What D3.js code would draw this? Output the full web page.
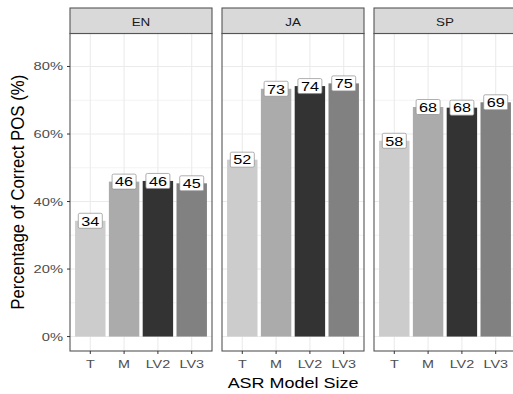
<!DOCTYPE html>
<html>
<head>
<meta charset="utf-8">
<script src="https://cdn.jsdelivr.net/npm/d3@7"></script>
<style>
  body { margin: 0; background: #fff; }
  text { font-family: "Liberation Sans", Arial, sans-serif; }
</style>
</head>
<body>
<div id="chart"></div>
<script>
// data
const languages = ["EN", "JA", "SP"];
const models = ["T", "M", "LV2", "LV3"];
const enValues = [34.3, 45.9, 46.1, 45.4];
const jaValues = [52.4, 73.4, 74.2, 75.0];
const spValues = [58.0, 68.0, 67.8, 69.4];
const yTicks = [0, 20, 40, 60, 80];
const yMinor = [10, 30, 50, 70];
const fills = ["#cccccc", "#ababab", "#333333", "#818181"];

const seriesByLang = { EN: enValues, JA: jaValues, SP: spValues };

const width = 513, height = 394;
// layout (the source image is stretched horizontally, so text gets sx)
const sx = 1.2;
const panelW = 142, panelGap = 10, panelLeft = 70;
const stripTop = 8, stripH = 25.5;
const plotTop = stripTop + stripH, plotBottom = 351;

const svg = d3.select("#chart").append("svg")
  .attr("width", width)
  .attr("height", height);

// ggplot-like expansion of y range
const y = d3.scaleLinear()
  .domain([-4.275, 89.775])
  .range([plotBottom, plotTop]);

const color = d3.scaleOrdinal().domain(models).range(fills);

function stretchedText(parent, x, yy, str, opts) {
  const g = parent.append("g")
    .attr("transform", `translate(${x},${yy}) scale(${opts.sx || sx},1)` + (opts.rotate ? ` rotate(${opts.rotate})` : ""));
  return g.append("text")
    .attr("text-anchor", opts.anchor || "middle")
    .attr("font-size", opts.size)
    .attr("fill", opts.fill || "#000")
    .text(str);
}

languages.forEach((lang, i) => {
  const x0 = panelLeft + i * (panelW + panelGap);
  const x = d3.scaleBand()
    .domain(models)
    .range([x0, x0 + panelW])
    .paddingInner(0.1)
    .paddingOuter(0.15);

  const panel = svg.append("g");

  panel.append("rect")
    .attr("x", x0).attr("y", plotTop)
    .attr("width", panelW).attr("height", plotBottom - plotTop)
    .attr("fill", "#fff");

  // grid
  panel.selectAll(".minor").data(yMinor).enter().append("line")
    .attr("x1", x0).attr("x2", x0 + panelW)
    .attr("y1", d => y(d)).attr("y2", d => y(d))
    .attr("stroke", "#ebebeb").attr("stroke-width", 0.6);
  panel.selectAll(".major").data(yTicks).enter().append("line")
    .attr("x1", x0).attr("x2", x0 + panelW)
    .attr("y1", d => y(d)).attr("y2", d => y(d))
    .attr("stroke", "#ebebeb").attr("stroke-width", 1.1);
  panel.selectAll(".vgrid").data(models).enter().append("line")
    .attr("x1", d => x(d) + x.bandwidth() / 2).attr("x2", d => x(d) + x.bandwidth() / 2)
    .attr("y1", plotTop).attr("y2", plotBottom)
    .attr("stroke", "#ebebeb").attr("stroke-width", 1.1);

  const vals = seriesByLang[lang];
  const data = models.map((m, j) => ({ model: m, value: vals[j] }));

  panel.selectAll(".bar").data(data).enter().append("rect")
    .attr("x", d => x(d.model))
    .attr("y", d => y(d.value))
    .attr("width", x.bandwidth())
    .attr("height", d => y(0) - y(d.value))
    .attr("fill", d => color(d.model));

  // value labels
  const lab = panel.selectAll(".lab").data(data).enter().append("g")
    .attr("transform", d => `translate(${x(d.model) + x.bandwidth() / 2},${y(d.value)})`);
  lab.append("rect")
    .attr("x", -12).attr("y", -7.5)
    .attr("width", 24).attr("height", 15)
    .attr("rx", 1.5)
    .attr("fill", "#fff")
    .attr("stroke", "#8c8c8c")
    .attr("stroke-width", 0.7);
  lab.append("g").attr("transform", `scale(${sx},1)`)
    .append("text")
    .attr("text-anchor", "middle")
    .attr("y", 4.8)
    .attr("font-size", 13.5)
    .attr("fill", "#000")
    .text(d => d3.format(".0f")(d.value));

  // panel border
  panel.append("rect")
    .attr("x", x0).attr("y", plotTop)
    .attr("width", panelW).attr("height", plotBottom - plotTop)
    .attr("fill", "none").attr("stroke", "#555").attr("stroke-width", 1.1);

  // strip
  panel.append("rect")
    .attr("x", x0).attr("y", stripTop)
    .attr("width", panelW).attr("height", stripH)
    .attr("fill", "#d9d9d9").attr("stroke", "#555").attr("stroke-width", 1.1);
  stretchedText(panel, x0 + panelW / 2, stripTop + 17.5, lang, { size: 11, fill: "#1a1a1a", sx: 1.22 });

  // x axis ticks + labels
  const xa = panel.selectAll(".xt").data(models).enter().append("g")
    .attr("transform", d => `translate(${x(d) + x.bandwidth() / 2},${plotBottom})`);
  xa.append("line").attr("y1", 0).attr("y2", 3).attr("stroke", "#333");
  xa.each(function (d) {
    stretchedText(d3.select(this), 0, 17, d, { size: 11.5, fill: "#4d4d4d", sx: 1.25 });
  });
});

// y axis
const ya = svg.selectAll(".yt").data(yTicks).enter().append("g")
  .attr("transform", d => `translate(${panelLeft},${y(d)})`);
ya.append("line").attr("x1", -3).attr("x2", 0).attr("stroke", "#333");
ya.each(function (d) {
  stretchedText(d3.select(this), -7, 4, d3.format(".0%")(d / 100), { size: 11.5, fill: "#4d4d4d", anchor: "end", sx: 1.28 });
});

// axis titles
stretchedText(svg, (panelLeft + panelLeft + 3 * panelW + 2 * panelGap) / 2, 388, "ASR Model Size", { size: 15.5, sx: 1.16 });
stretchedText(svg, 23.5, (plotTop + plotBottom) / 2, "Percentage of Correct POS (%)", { size: 16.8, sx: 1.1, rotate: -90 });
</script>
</body>
</html>
